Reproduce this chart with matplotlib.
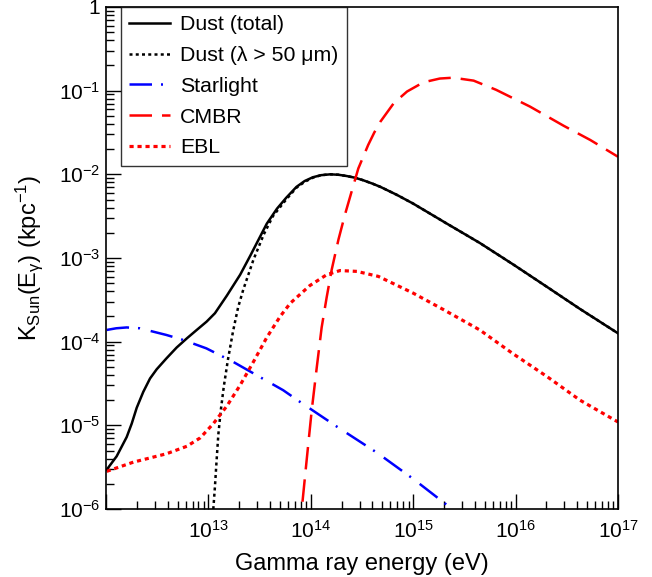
import numpy as np
import matplotlib
matplotlib.use("Agg")
import matplotlib.pyplot as plt
from matplotlib.ticker import FixedLocator, NullFormatter

plt.rcParams['font.family'] = ['Liberation Sans', 'DejaVu Sans']
plt.rcParams['mathtext.fontset'] = 'custom'
plt.rcParams['mathtext.rm'] = 'Liberation Sans'
plt.rcParams['mathtext.it'] = 'Liberation Sans:italic'

# values, log10(E / eV) and log10(K / kpc^-1)
dust_logE = [12.007, 12.104, 12.202, 12.251, 12.30, 12.364, 12.43, 12.495, 12.59, 12.69,
             12.79, 12.886, 12.983, 13.064, 13.18, 13.31, 13.41, 13.49, 13.57, 13.67,
             13.76, 13.86, 13.94, 14.02, 14.10, 14.19, 14.27, 14.35, 14.43, 14.51, 14.60,
             14.68, 14.84, 15.00, 15.33, 15.65, 15.98, 16.30, 16.63, 17.0]
dust_logK = [-5.53, -5.37, -5.14, -4.98, -4.79, -4.60, -4.44, -4.33, -4.20, -4.07,
             -3.96, -3.86, -3.76, -3.66, -3.45, -3.20, -2.97, -2.78, -2.59, -2.41,
             -2.28, -2.15, -2.08, -2.035, -2.01, -2.00, -2.005, -2.02, -2.04, -2.07, -2.11,
             -2.15, -2.245, -2.35, -2.59, -2.82, -3.08, -3.34, -3.61, -3.90]

dust50_logE = [13.03, 13.048, 13.064, 13.08, 13.097, 13.12, 13.15, 13.19, 13.24, 13.29,
               13.34, 13.44, 13.54, 13.63, 13.76, 13.86, 13.94, 14.02, 14.10, 14.19, 14.27,
               14.35, 14.43, 14.51, 14.60, 14.68, 14.84, 15.00, 15.33, 15.65, 15.98, 16.30,
               16.63, 17.0]
dust50_logK = [-6.3, -6.0, -5.73, -5.42, -5.11, -4.83, -4.54, -4.22, -3.88, -3.59,
               -3.38, -3.02, -2.72, -2.50, -2.30, -2.16, -2.09, -2.04, -2.01, -2.00, -2.005,
               -2.02, -2.04, -2.07, -2.11, -2.15, -2.245, -2.35, -2.59, -2.82, -3.08, -3.34,
               -3.61, -3.90]

star_logE = [12.007, 12.10, 12.202, 12.33, 12.59, 12.755, 12.98, 13.24, 13.47, 13.73,
             13.895, 14.26, 14.65, 15.0, 15.38, 15.45]
star_logK = [-3.86, -3.84, -3.83, -3.84, -3.92, -3.98, -4.08, -4.24, -4.40, -4.58,
             -4.72, -5.02, -5.33, -5.64, -6.0, -6.06]

cmb_logE = [13.89, 13.911, 13.96, 14.009, 14.058, 14.106, 14.155, 14.204, 14.27, 14.334,
            14.40, 14.464, 14.56, 14.62, 14.68, 14.81, 14.94, 15.10, 15.26, 15.39, 15.59,
            15.81, 16.14, 16.47, 16.73, 17.0]
cmb_logK = [-6.3, -6.01, -5.41, -4.82, -4.31, -3.83, -3.47, -3.14, -2.78, -2.48,
            -2.20, -1.93, -1.65, -1.50, -1.37, -1.15, -1.01, -0.90, -0.855, -0.845, -0.88,
            -0.99, -1.19, -1.42, -1.59, -1.79]

ebl_logE = [12.007, 12.267, 12.59, 12.79, 12.92, 13.048, 13.18, 13.31, 13.44, 13.57,
            13.70, 13.80, 13.99, 14.155, 14.285, 14.45, 14.66, 15.0, 15.3, 15.65,
            15.97, 16.31, 16.63, 17.0]
ebl_logK = [-5.55, -5.44, -5.34, -5.25, -5.15, -4.98, -4.77, -4.52, -4.24, -3.95,
            -3.70, -3.54, -3.33, -3.20, -3.15, -3.16, -3.22, -3.42, -3.62, -3.86,
            -4.14, -4.42, -4.70, -4.96]

labels = ['Dust (total)', 'Dust (\u03bb > 50 \u03bcm)', 'Starlight', 'CMBR', 'EBL']

x_major = [1e12, 1e13, 1e14, 1e15, 1e16, 1e17]
y_major = [1e-6, 1e-5, 1e-4, 1e-3, 1e-2, 1e-1, 1.0]

fig = plt.figure(figsize=(6.52, 5.77), dpi=100)
ax = fig.add_axes([106/652, 1 - 509/577, 512/652, 502/577])

def pw(a):
    return 10.0 ** np.asarray(a)

ax.plot(pw(dust_logE), pw(dust_logK), color='k', lw=1.8, label=labels[0])
ax.plot(pw(dust50_logE), pw(dust50_logK), color='k', lw=1.8, dashes=(1.2, 1.3),
        dash_capstyle='butt', label=labels[1])
ax.plot(pw(star_logE), pw(star_logK), color='#0000ff', lw=1.8,
        dashes=(9.0, 3.6, 0.8, 4.4), label=labels[2])
ax.plot(pw(cmb_logE), pw(cmb_logK), color='#ff0000', lw=1.8, dashes=(9, 4), label=labels[3])
ax.plot(pw(ebl_logE), pw(ebl_logK), color='#ff0000', lw=2.3, dashes=(1.3, 1.2),
        dash_capstyle='butt', label=labels[4])

ax.set_xscale('log')
ax.set_yscale('log')
ax.set_xlim(1e12, 1e17)
ax.set_ylim(1e-6, 1)

def minors(majors):
    out = []
    for m in majors[:-1]:
        out += [m * k for k in range(2, 10)]
    return out

ax.xaxis.set_major_locator(FixedLocator(x_major))
ax.xaxis.set_minor_locator(FixedLocator(minors(x_major)))
ax.yaxis.set_major_locator(FixedLocator(y_major))
ax.yaxis.set_minor_locator(FixedLocator(minors(y_major)))

def xfmt(v, pos):
    if v < 5e12:
        return ''
    return '$10^{%d}$' % round(np.log10(v))

def yfmt(v, pos):
    e = round(np.log10(v))
    if e == 0:
        return '1'
    return '$10^{%d}$' % e

ax.xaxis.set_major_formatter(plt.FuncFormatter(xfmt))
ax.yaxis.set_major_formatter(plt.FuncFormatter(yfmt))
ax.xaxis.set_minor_formatter(NullFormatter())
ax.yaxis.set_minor_formatter(NullFormatter())

ax.tick_params(which='both', direction='in', top=False, right=False, labelsize=15)
ax.tick_params(which='major', length=11, width=1)
ax.tick_params(which='minor', length=5.5, width=1)
ax.tick_params(axis='x', pad=8)
ax.tick_params(axis='y', pad=4)
for s in ax.spines.values():
    s.set_linewidth(1.2)

ax.set_xlabel('Gamma ray energy (eV)', fontsize=17, labelpad=8)
ax.set_ylabel('K$_{\\mathrm{Sun}}$(E$_{\\mathrm{\u03b3}}$) (kpc$^{\\mathrm{-1}}$)', fontsize=17,
              labelpad=10)

leg = ax.legend(loc='upper left', bbox_to_anchor=(0.029, 1.0), borderaxespad=0,
                fontsize=15.3, frameon=True, fancybox=False, edgecolor='k',
                handlelength=1.9, handletextpad=0.5, labelspacing=0.55, borderpad=0.4)
leg.get_frame().set_linewidth(1.0)

fig.savefig('out.png', dpi=100)
